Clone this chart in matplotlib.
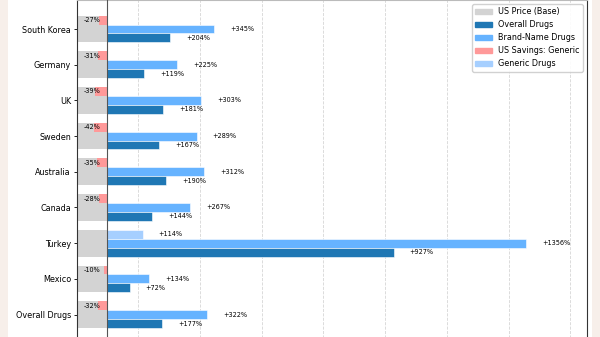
import numpy as np
import matplotlib
matplotlib.use('Agg')
import matplotlib.pyplot as plt
from matplotlib.patches import Patch, Rectangle

# price difference vs. US, in percent
countries = ['South Korea', 'Germany', 'UK', 'Sweden', 'Australia',
             'Canada', 'Turkey', 'Mexico', 'Overall Drugs']
overall_pct = [204, 119, 181, 167, 190, 144, 927, 72, 177]
brand_pct = [345, 225, 303, 289, 312, 267, 1356, 134, 322]
generic_pct = [-27, -31, -39, -42, -35, -28, 114, -10, -32]

US_BASE = 100  # US price index
c_base, c_overall, c_brand = '#d3d3d3', '#1f77b4', '#66b3ff'
c_saving, c_generic = '#ff9999', '#a6cfff'

fig = plt.figure(figsize=(6, 3.37), dpi=100, facecolor='#f7efea')
fig.patches.append(Rectangle((8 / 600, 0), 584 / 600, 1, transform=fig.transFigure,
                             facecolor='white', edgecolor='none', zorder=-5))
ax = fig.add_axes([76.6 / 600, 1 - 343.6 / 337, 510.1 / 600, 343.6 / 337])
ax.set_zorder(2)

y = np.arange(len(countries))
h = 0.25
off = 52  # label gap in data units

ax.barh(y, [US_BASE] * len(y), height=3 * h, left=0, color=c_base, zorder=2)
for i, (o, b, g) in enumerate(zip(overall_pct, brand_pct, generic_pct)):
    if g < 0:
        ax.barh(y[i] - h, -g, height=h, left=US_BASE + g, color=c_saving, zorder=3)
        ax.text(50, y[i] - h, f'{g}%', ha='center', va='center', fontsize=4.7, zorder=5)
    else:
        ax.barh(y[i] - h, g, height=h, left=US_BASE, color=c_generic,
                edgecolor='white', linewidth=0.4, zorder=3)
        ax.text(US_BASE + g + off, y[i] - h, f'+{g}%', ha='left', va='center',
                fontsize=4.7, zorder=5)
    ax.barh(y[i], b, height=h, left=US_BASE, color=c_brand,
            edgecolor='white', linewidth=0.4, zorder=3)
    ax.text(US_BASE + b + off, y[i], f'+{b}%', ha='left', va='center', fontsize=4.7, zorder=5)
    ax.barh(y[i] + h, o, height=h, left=US_BASE, color=c_overall,
            edgecolor='white', linewidth=0.4, zorder=3)
    ax.text(US_BASE + o + off, y[i] + h, f'+{o}%', ha='left', va='center', fontsize=4.7, zorder=5)

ax.axvline(US_BASE, color='#555555', linewidth=0.8, zorder=4)
ax.set_xlim(0, 1653)
ax.set_ylim(len(y) - 1 + 0.8125, -0.8125)
ax.set_yticks(y)
ax.set_yticklabels(countries)
ax.tick_params(axis='y', labelsize=5.8, length=2.5, width=0.6, pad=1.5)
ax.set_xticks(np.arange(0, 1601, 200))
ax.tick_params(axis='x', labelbottom=False, length=0)
ax.grid(axis='x', linestyle='--', color='#cccccc', linewidth=0.6, alpha=0.8, zorder=0)
ax.set_axisbelow(True)
for s in ax.spines.values():
    s.set_linewidth(0.8)
    s.set_color('#333333')
ax.spines['top'].set_color('#bbbbbb')

handles = [Patch(color=c_base, label='US Price (Base)'),
           Patch(color=c_overall, label='Overall Drugs'),
           Patch(color=c_brand, label='Brand-Name Drugs'),
           Patch(color=c_saving, label='US Savings: Generic'),
           Patch(color=c_generic, label='Generic Drugs')]
ax.legend(handles=handles, loc='upper right', fontsize=5.8, framealpha=0.9)

fig.savefig('out.png', dpi=100, facecolor=fig.get_facecolor())
